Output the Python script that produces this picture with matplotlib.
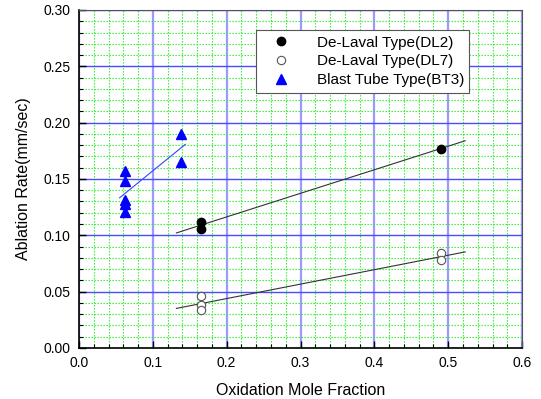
import matplotlib
matplotlib.use("Agg")
import matplotlib.pyplot as plt
import numpy as np
from matplotlib.ticker import MultipleLocator

plt.rcParams['font.family'] = ['Liberation Sans', 'DejaVu Sans']

# data
dl2_x = [0.165, 0.165, 0.490]
dl2_y = [0.112, 0.106, 0.177]
dl7_x = [0.165, 0.165, 0.165, 0.490, 0.490]
dl7_y = [0.046, 0.038, 0.034, 0.084, 0.078]
bt3_x = [0.062, 0.062, 0.062, 0.062, 0.062, 0.138, 0.138]
bt3_y = [0.157, 0.148, 0.131, 0.128, 0.121, 0.190, 0.165]

# extent of the fitted lines
dl_fit_range = [0.132, 0.523]
bt3_fit_range = [0.055, 0.144]

fig = plt.figure(figsize=(5.41, 3.99), dpi=100)
ax = fig.add_axes([0.146, 0.128, 0.819, 0.847])

def fit_line(x, y, rng, **kw):
    k, b = np.polyfit(x, y, 1)
    xs = np.array(rng)
    ax.plot(xs, k * xs + b, zorder=3, **kw)

fit_line(dl2_x, dl2_y, dl_fit_range, color='#333333', lw=0.8)
fit_line(dl7_x, dl7_y, dl_fit_range, color='#333333', lw=0.8)
fit_line(bt3_x, bt3_y, bt3_fit_range, color='#3344ff', lw=0.8)

ax.plot(dl2_x, dl2_y, 'o', color='black', ms=6, ls='none',
        label='De-Laval Type(DL2)', zorder=4)
ax.plot(dl7_x, dl7_y, 'o', mfc='white', mec='#555555', mew=0.8, ms=6,
        ls='none', label='De-Laval Type(DL7)', zorder=4)
ax.plot(bt3_x, bt3_y, '^', color='#0000ff', ms=7, ls='none',
        label='Blast Tube Type(BT3)', zorder=4)

ax.set_xlim(0, 0.6)
ax.set_ylim(0, 0.30)
ax.xaxis.set_major_locator(MultipleLocator(0.1))
ax.xaxis.set_minor_locator(MultipleLocator(0.02))
ax.yaxis.set_major_locator(MultipleLocator(0.05))
ax.yaxis.set_minor_locator(MultipleLocator(0.01))
ax.xaxis.set_major_formatter(lambda v, p: f"{v:.1f}")
ax.yaxis.set_major_formatter(lambda v, p: f"{v:.2f}")

# grids
ax.xaxis.grid(True, which='minor', color='#22ee22', ls=(0, (1.2, 1.5)), lw=0.8)
ax.yaxis.grid(True, which='minor', color='#22ee22', ls=(0, (1.2, 1.5)), lw=0.8)
ax.xaxis.grid(True, which='major', color='#9a9aff', lw=1.6)
ax.yaxis.grid(True, which='major', color='#4a4aff', lw=1.0)
ax.set_axisbelow(True)

ax.tick_params(which='both', direction='in', top=False, right=False,
               labelsize=10, colors='black')
ax.tick_params(which='major', length=5, width=1, pad=6)
ax.tick_params(which='minor', length=3, width=0.8)
for s in ['left', 'bottom']:
    ax.spines[s].set_linewidth(1.2)
for s in ['top', 'right']:
    ax.spines[s].set_color('#555555')

ax.set_xlabel('Oxidation Mole Fraction', fontsize=11.5, labelpad=9)
ax.set_ylabel('Ablation Rate(mm/sec)', fontsize=11.5, labelpad=9)

leg = ax.legend(loc='upper left', bbox_to_anchor=(0.40, 0.94), fontsize=11,
                frameon=True, fancybox=False, borderpad=0.35, labelspacing=0.32,
                handletextpad=1.0, handlelength=2.6, borderaxespad=0)
leg.get_frame().set_edgecolor('#555555')
leg.get_frame().set_linewidth(0.8)
leg.get_frame().set_alpha(1)

fig.savefig('out.png', dpi=100)
